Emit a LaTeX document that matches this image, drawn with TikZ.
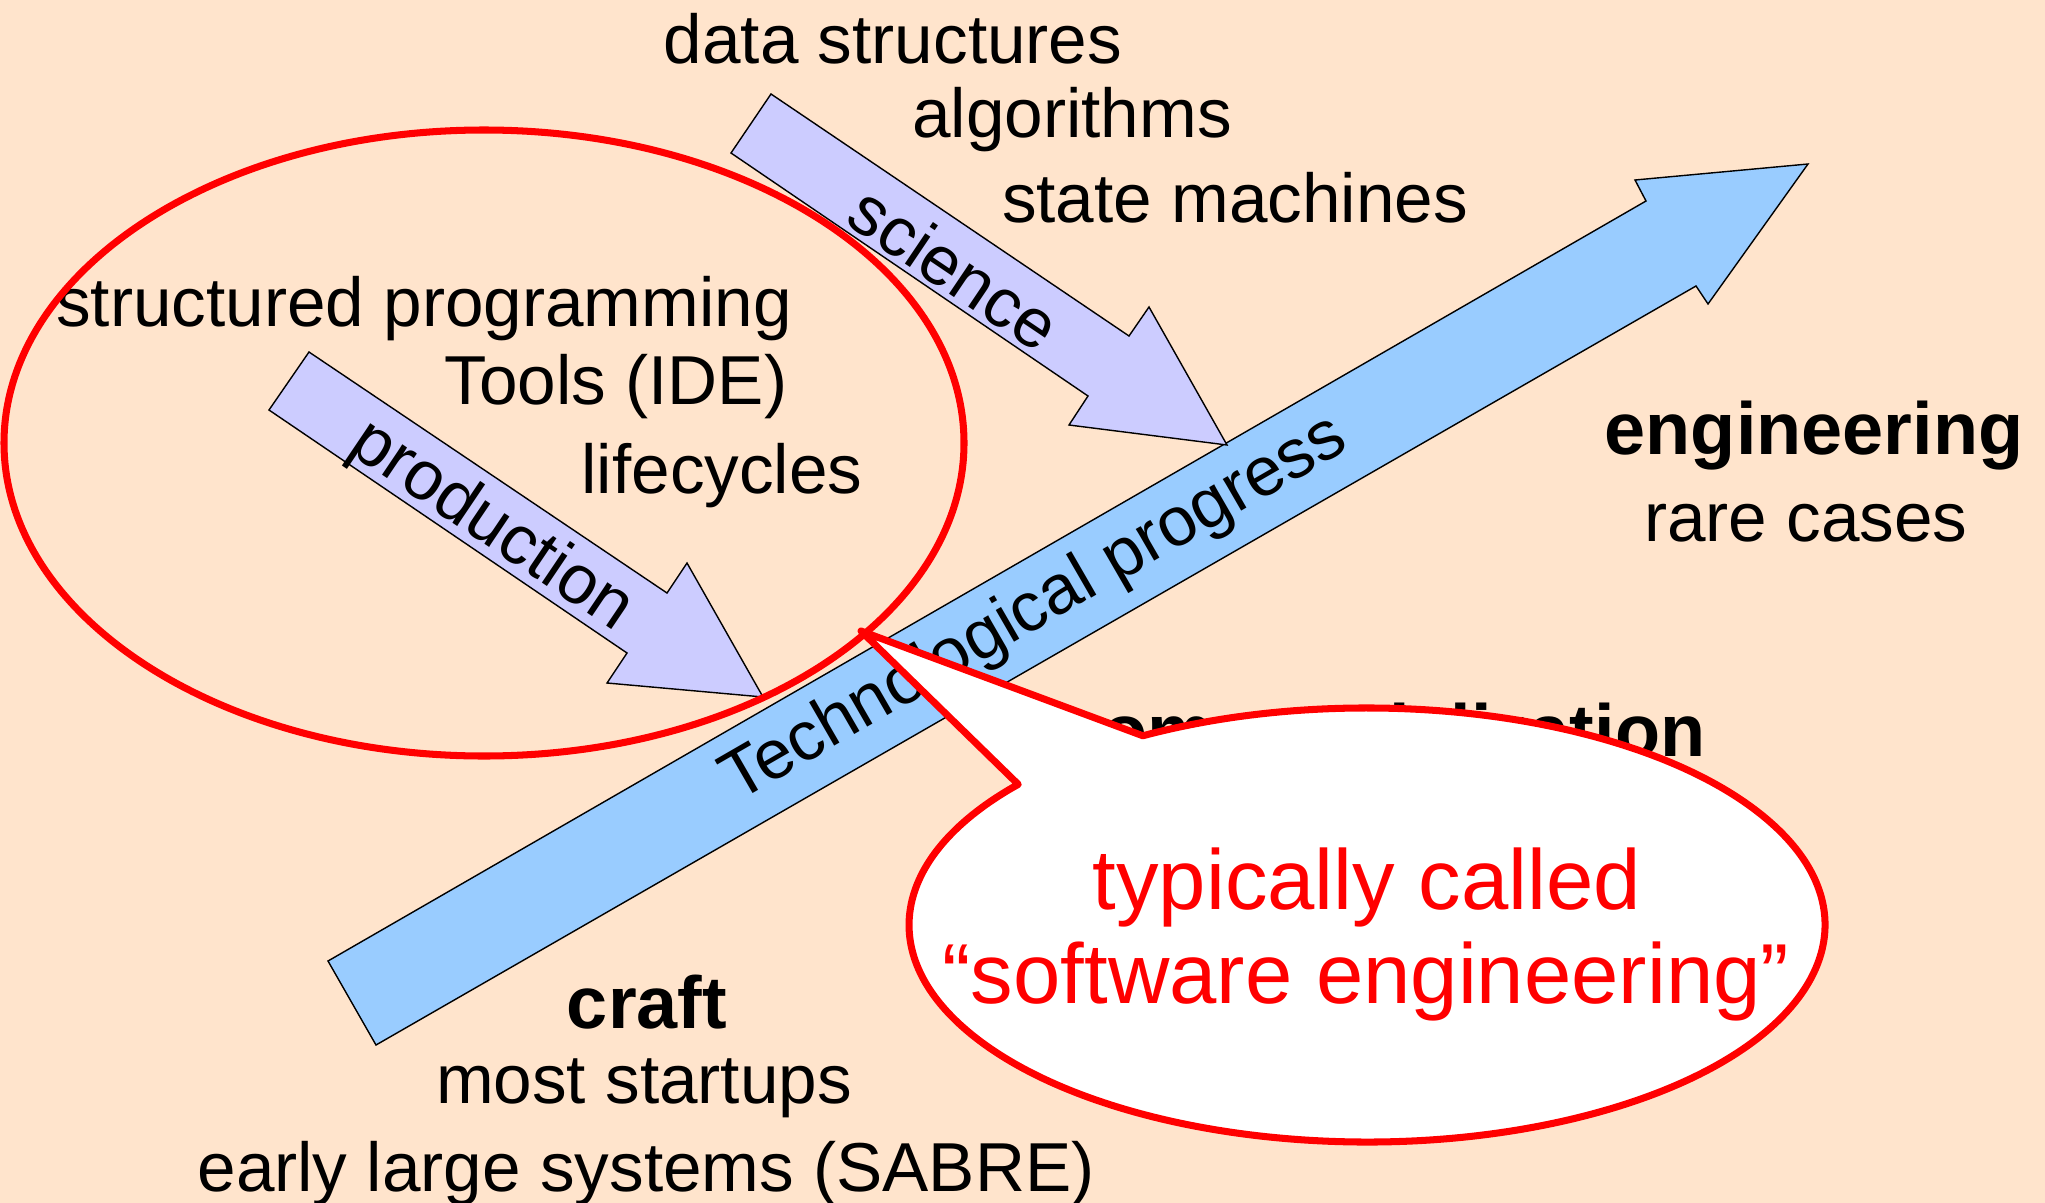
\documentclass[tikz,border=0pt]{standalone}
\usepackage{fontspec}
\setmainfont{Liberation Sans}
\definecolor{peach}{RGB}{255,228,204}
\definecolor{progressblue}{RGB}{153,204,255}
\definecolor{lavender}{RGB}{204,204,255}
\tikzset{
  word/.style={inner sep=0pt, anchor=base, font=\fontsize{19.7}{24}\selectfont},
  stage/.style={word, font=\fontsize{21}{25}\selectfont\bfseries},
  onarrow/.style={inner sep=0pt, font=\fontsize{19.7}{24}\selectfont},
  fatarrow/.style={draw=black, line width=0.4pt},
  callouttext/.style={word, text=red, font=\fontsize{24.2}{29}\selectfont},
}
\begin{document}
\begin{tikzpicture}[x=0.01cm, y=-0.01cm]
\useasboundingbox (0,0) rectangle (2045,1203);
\fill[peach] (0,0) rectangle (2045,1203);
%%% the big progress arrow and the two feeding arrows
\filldraw[fatarrow, fill=progressblue] (328,961) -- (1646,201) -- (1635,180) -- (1808,164)
  -- (1708,304) -- (1696,286) -- (376,1045) -- cycle;
\filldraw[fatarrow, fill=lavender] (771,94) -- (1129,336) -- (1149,307) -- (1227,445)
  -- (1069,425) -- (1088,396) -- (731,153) -- cycle;
\filldraw[fatarrow, fill=lavender] (309,352) -- (667,593) -- (687,563) -- (763,697)
  -- (607,683) -- (627,653) -- (269,410) -- cycle;
\node[onarrow, rotate=30] (progress) at (1035,610) {Technological progress};
\node[onarrow, rotate=-34] (science) at (955,268) {science};
\node[onarrow, rotate=-34] (production) at (491,527) {production};
%%% what science brings
\node[word] (datastruct) at (893,63) {data structures};
\node[word] (algos) at (1072,137) {algorithms};
\node[word] (statemach) at (1235,222) {state machines};
%%% what production brings
\node[word] (structprog) at (424,326) {structured programming};
\node[word] (ide) at (616,404) {Tools (IDE)};
\node[word] (lifecyc) at (722,493) {lifecycles};
%%% the stages
\node[stage] (engineering) at (1814,454) {engineering};
\node[word] (rare) at (1806,541) {rare cases};
\node[stage, anchor=base east] (commerce) at (1706,756) {commercialization};
\node[stage] (craft) at (647,1028) {craft};
\node[word] (startups) at (644,1103) {most startups};
\node[word] (sabre) at (646,1191) {early large systems (SABRE)};
% \draw[red] (1367,925) circle (4pt);
\draw[red, line width=2pt] (484,443) ellipse [x radius=480, y radius=313];
%%% the speech bubble
\filldraw[draw=red, fill=white, line width=2pt, line join=round]
  (1367,925) ++(-119.3:458 and 217)
  arc[start angle=-119.3, end angle=220.4, x radius=458, y radius=217]
  -- (861,631) -- cycle;
\node[callouttext] (typically) at (1367,909) {typically called};
\node[callouttext] (swe) at (1366,1003) {“software engineering”};
\end{tikzpicture}
\end{document}
